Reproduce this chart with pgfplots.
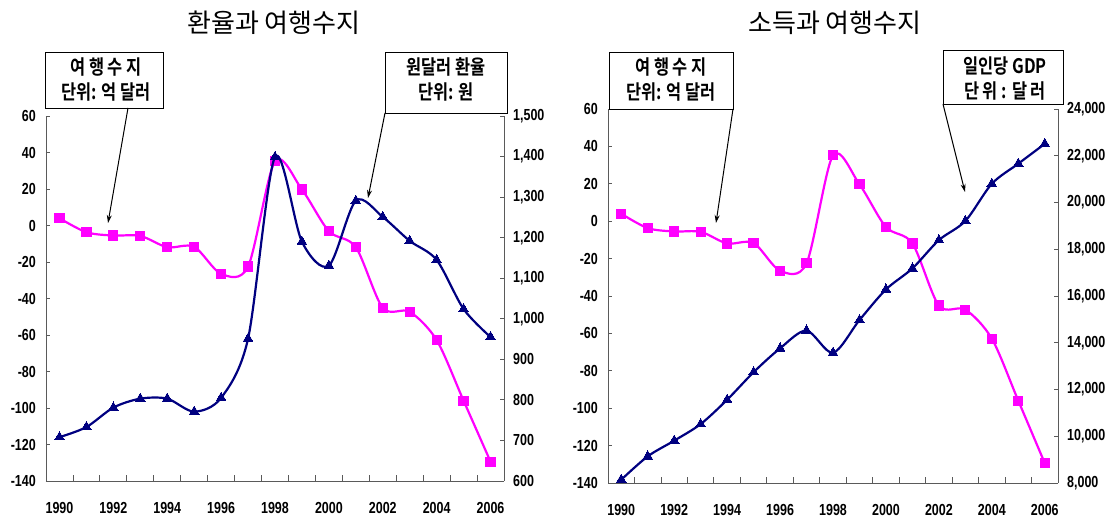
\documentclass[border=0pt]{standalone}
\usepackage{fontspec}
\setmainfont{Liberation Sans}
\newfontfamily\kr{Noto Sans CJK KR}
\newfontfamily\krb{Noto Sans CJK KR Bold}[FakeStretch=0.82]
\newfontfamily\tickfont{Liberation Sans Bold}[FakeStretch=0.78]
\usepackage{pgfplots}
\usepackage{pgfplotstable}
\pgfplotsset{compat=1.18}
\usetikzlibrary{arrows.meta}
\definecolor{mag}{RGB}{255,0,255}
\definecolor{nav}{RGB}{0,0,128}
\definecolor{axgray}{RGB}{90,90,90}

\pgfplotstableread{
x tb er gdp
0 4.0 708 8140
1 -3.7 733 9140
2 -5.5 781 9810
3 -5.7 803 10520
4 -11.9 803 11560
5 -11.7 771 12740
6 -26.5 805 13760
7 -22.5 951 14520
8 35.2 1399 13570
9 19.7 1190 14970
10 -3.1 1131 16280
11 -11.9 1291 17180
12 -45.1 1251 18390
13 -47.3 1192 19210
14 -62.8 1145 20800
15 -96.0 1024 21660
16 -129.4 955 22510
}\data

\pgfplotsset{
  base/.style={scale only axis, anchor=south west, xmin=-0.5, xmax=16.5,
    tick label style={font=\tickfont\fontsize{16}{16}\selectfont},
    /pgf/number format/assume math mode=true,
    scaled y ticks=false,
    axis line style={axgray, line width=0.8pt},
    tick style={axgray, line width=0.8pt},
    tick align=inside, major tick length=4pt},
  leftax/.style={base, axis y line*=left, axis x line*=bottom,
    ymin=-140, ymax=60, ytick={-140,-120,...,60},
    yticklabel style={anchor=east, inner sep=0pt, xshift=-10pt},
    xtick={0,2,...,16},
    xticklabels={1990,1992,1994,1996,1998,2000,2002,2004,2006},
    xticklabel style={anchor=north, inner sep=0pt, yshift=-21pt},
    major x tick style={draw=none},
    minor xtick={-0.5,0.5,...,16.5},
    minor x tick style={axgray, line width=0.8pt},
    minor tick length=6pt},
  rightax/.style={base, axis y line*=right, axis x line=none,
    yticklabel style={anchor=west, inner sep=0pt, xshift=9pt}},
  tbplot/.style={mag, line width=2.2pt, smooth, tension=0.5, mark=square*, mark size=4.6pt, mark options={line width=0pt}},
  navplot/.style={nav, line width=2.2pt, smooth, tension=0.5, mark=triangle*, mark size=5.6pt, mark options={line width=0pt}},
}

\begin{document}
\begin{tikzpicture}
\useasboundingbox (0pt,0pt) rectangle (1114pt,521pt);

% ---------- left panel ----------
\begin{axis}[leftax, at={(46pt,40pt)}, width=458pt, height=365pt]
\addplot[tbplot] table[x=x,y=tb]{\data};
\end{axis}
\begin{axis}[rightax, at={(46pt,40pt)}, width=458pt, height=365pt,
  ymin=600, ymax=1500, ytick={600,700,...,1500}]
\addplot[navplot] table[x=x,y=er]{\data};
\end{axis}

% ---------- right panel ----------
\begin{axis}[leftax, at={(608pt,38pt)}, width=450pt, height=374pt]
\addplot[tbplot] table[x=x,y=tb]{\data};
\end{axis}
\begin{axis}[rightax, at={(608pt,38pt)}, width=450pt, height=374pt,
  ymin=8000, ymax=24000, ytick={8000,10000,...,24000}]
\addplot[navplot] table[x=x,y=gdp]{\data};
\end{axis}

% titles
\node[font=\kr\fontsize{26}{26}\selectfont] at (274pt,498pt) {환율과 여행수지};
\node[font=\kr\fontsize{26}{26}\selectfont] at (835pt,498pt) {소득과 여행수지};

% callout boxes
\tikzset{boxt/.style={font=\krb\fontsize{20}{20}\selectfont, inner sep=0pt}}
\draw[black, line width=0.8pt, fill=white] (45pt,469pt) rectangle (163pt,413pt);
\node[boxt] at (106pt,454pt) {여 행 수 지};
\node[boxt] at (106pt,429pt) {단위: 억 달러};
\draw[black, line width=0.8pt, fill=white] (385pt,469pt) rectangle (507pt,408pt);
\node[boxt] at (446pt,454pt) {원달러 환율};
\node[boxt] at (446pt,429pt) {단위: 원};
\draw[black, line width=0.8pt, fill=white] (609pt,469pt) rectangle (733pt,412pt);
\node[boxt] at (671pt,454pt) {여 행 수 지};
\node[boxt] at (671pt,429pt) {단위: 억 달러};
\draw[black, line width=0.8pt, fill=white] (943pt,471pt) rectangle (1063pt,417pt);
\node[boxt] at (1005pt,455pt) {일인당 GDP};
\node[boxt] at (1005pt,430pt) {단 위 : 달 러};

% arrows
\tikzset{arr/.style={black, line width=1pt, -{Stealth[length=8pt,width=5pt]}}}
\draw[arr] (128pt,413pt) -- (108pt,298pt);
\draw[arr] (385pt,408pt) -- (368pt,323pt);
\draw[arr] (733pt,412pt) -- (716pt,298pt);
\draw[arr] (943pt,417pt) -- (965pt,329pt);
\end{tikzpicture}
\end{document}
